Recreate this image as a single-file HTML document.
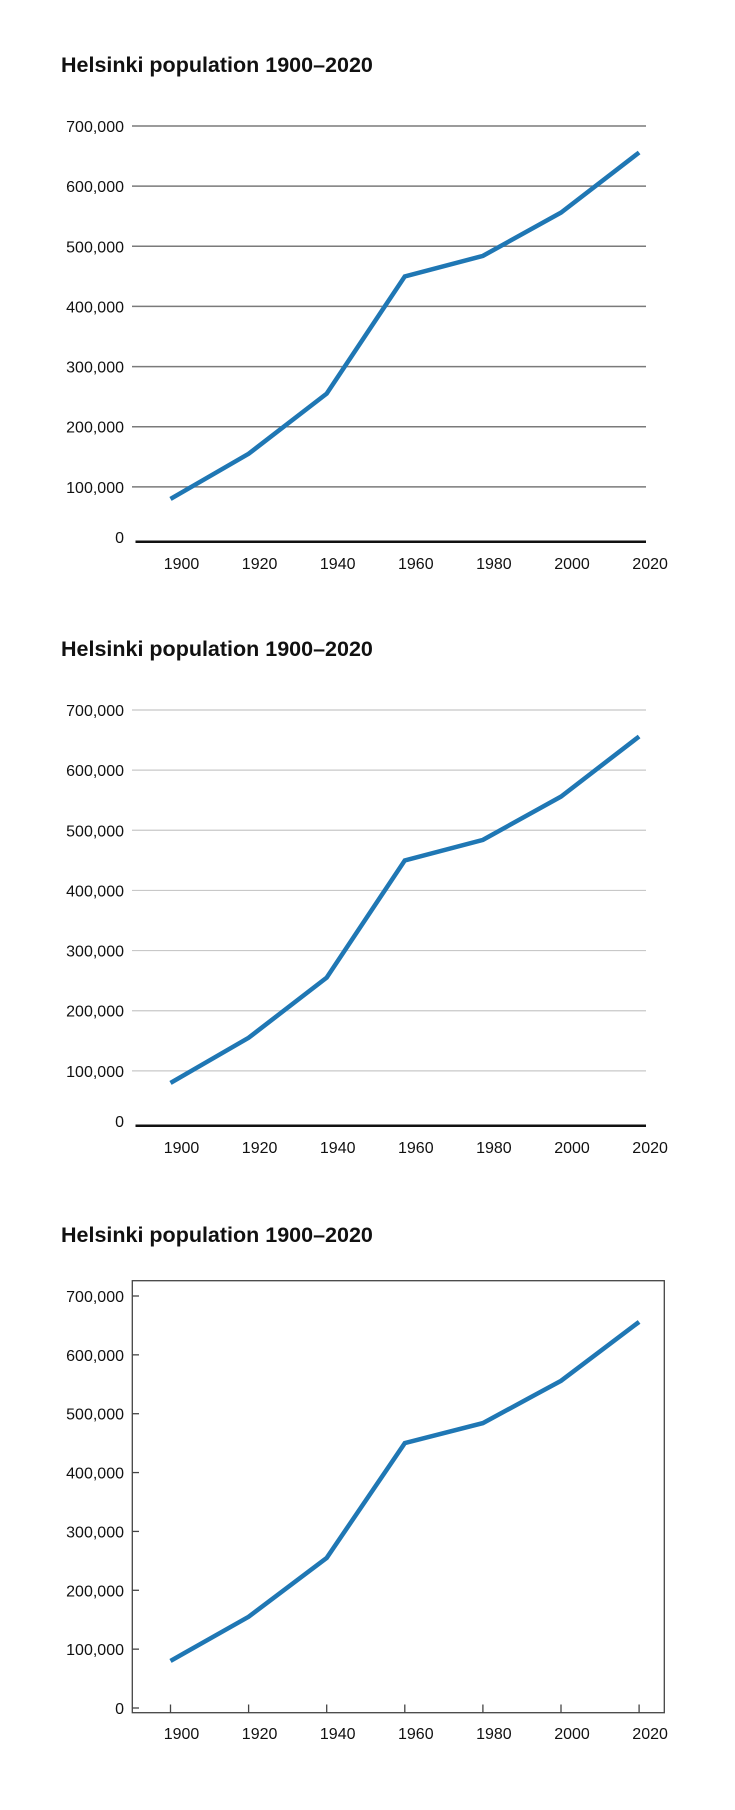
<!DOCTYPE html>
<html><head><meta charset="utf-8"><style>
html,body{margin:0;padding:0;background:#fff;width:735px;height:1810px;overflow:hidden}
svg{display:block}
text{font-family:"Liberation Sans",sans-serif;fill:#111}
</style></head><body>
<svg id="root" width="735" height="1810" viewBox="0 0 735 1810"></svg>
<script>
const years = [1900, 1920, 1940, 1960, 1980, 2000, 2020];
const population = [80000, 155000, 255000, 450000, 484000, 556000, 656000];
const yTicks = [0, 100000, 200000, 300000, 400000, 500000, 600000, 700000];
const yTickLabels = ["0", "100,000", "200,000", "300,000", "400,000", "500,000", "600,000", "700,000"];
const chartTitle = "Helsinki population 1900\u20132020";

const NS = "http://www.w3.org/2000/svg";
const root = document.getElementById('root');
function mk(tag, attrs, parent) {
  const e = document.createElementNS(NS, tag);
  for (const k in attrs) e.setAttribute(k, attrs[k]);
  parent.appendChild(e);
  return e;
}
function drawChart(idx, off, style) {
  const g = mk('g', {}, root);
  
  
  const zeroY = style === 'box' ? 1708 - off : 547;
  const topY = 126;
  const yScale = v => off + zeroY - (zeroY - topY) * v / 700000;
  const xScale = yr => 170.5 + (yr - 1900) / 20 * 78.1;
  const t = mk('text', {x: 61, y: off + 72, 'font-size': 21.5, 'font-weight': 'bold'}, g);
  t.textContent = chartTitle;
  
  
  if (style === 'box') {
    const r = mk('rect', {x: 132.3, y: off + 110.7, width: 532, height: 1712.7 - 1170 - 110.7, fill: 'none', stroke: '#444', 'stroke-width': 1.3}, g);
    
    
  }
  yTicks.forEach((v, i) => {
    const y = yScale(v);
    if (v > 0 && style !== 'box') {
      const l = mk('line', {x1: 132, x2: 646, y1: y, y2: y, stroke: style === 'dark' ? '#7a7a7a' : '#c8c8c8', 'stroke-width': style === 'dark' ? 1.5 : 1.2}, g);
      
      
    }
    if (style === 'box') {
      const tk = mk('line', {x1: 132.3, x2: 139, y1: y, y2: y, stroke: '#444', 'stroke-width': 1.3}, g);
      
      
    }
    const ly = (v === 0 && style !== 'box') ? off + 537 : y;
    const lb = mk('text', {x: 124, y: ly + 6, 'font-size': 16, 'text-anchor': 'end'}, g);
    lb.textContent = yTickLabels[i];
    
    
  });
  if (style !== 'box') {
    const ax = mk('line', {x1: 135.5, x2: 646, y1: off + 541.7, y2: off + 541.7, stroke: '#111', 'stroke-width': 2.5}, g);
    
    
  }
  years.forEach(yr => {
    const x = xScale(yr);
    if (style === 'box') {
      const tk = mk('line', {x1: x, x2: x, y1: off + 542.7, y2: off + 534.5, stroke: '#444', 'stroke-width': 1.3}, g);
      
      
    }
    const lb = mk('text', {x: x + 11, y: off + 569, 'font-size': 16, 'text-anchor': 'middle'}, g);
    lb.textContent = String(yr);
    
    
  });
  const pts = years.map((yr, i) => xScale(yr).toFixed(1) + ',' + yScale(population[i]).toFixed(1)).join(' ');
  const pl = mk('polyline', {points: pts, fill: 'none', stroke: '#1f77b4', 'stroke-width': 4.5, 'stroke-linejoin': 'miter'}, g);
  
  
}
drawChart(1, 0, 'dark');
drawChart(2, 584, 'light');
drawChart(3, 1170, 'box');
</script>
</body></html>
